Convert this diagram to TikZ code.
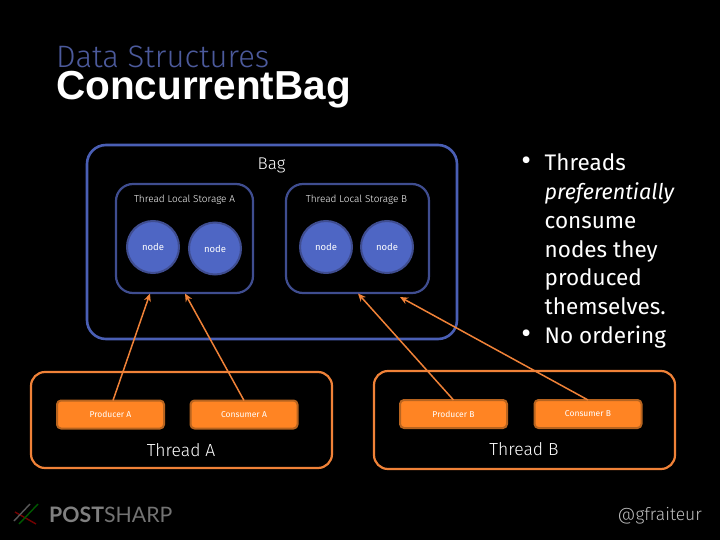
\documentclass[tikz,border=0pt]{standalone}
\usepackage{fontspec}
\setmainfont{Fira Sans}[UprightFont=* Light,ItalicFont=* Light Italic]
\newfontfamily\titlefont{Liberation Sans}
\newfontfamily\logofont{Lato}
\newfontfamily\bodyfont{Fira Sans}
\usetikzlibrary{arrows.meta}
\definecolor{bluel}{HTML}{4A5FB5}
\definecolor{bluef}{HTML}{4E66C4}
\definecolor{blued}{HTML}{3F4D90}
\definecolor{orl}{HTML}{F08238}
\definecolor{orf}{HTML}{FF8423}
\definecolor{ord}{HTML}{B8641F}
\definecolor{subt}{HTML}{4C5A9C}
\tikzset{
  bagbox/.style={draw=bluel,line width=2.6pt,rounded corners=19pt,inner sep=0pt},
  tlsbox/.style={draw=blued,line width=2.2pt,rounded corners=17pt,inner sep=0pt},
  threadbox/.style={draw=orl,line width=2.2pt,rounded corners=14pt,inner sep=0pt},
  datanode/.style={circle,draw=blued,line width=2pt,fill=bluef,minimum size=52pt,inner sep=0pt,text=white,font=\bodyfont\fontsize{9.5}{10}\selectfont},
  actor/.style={draw=ord,line width=2pt,fill=orf,rounded corners=4pt,minimum width=107pt,minimum height=28pt,inner sep=0pt,text=white,font=\bodyfont\fontsize{8.5}{9}\selectfont},
  flow/.style={draw=orl,line width=1.5pt,-{Stealth[length=8pt,width=7pt]}},
  lab/.style={text=white,inner sep=0pt},
}
\begin{document}
\begin{tikzpicture}[x=1pt,y=-1pt]
\useasboundingbox[fill=black] (0,0) rectangle (720,540);
\node[text=subt,inner sep=0pt,anchor=base west,font=\fontsize{31}{33}\selectfont] (sub) at (56,68) {Data Structures};
\node[text=white,inner sep=0pt,anchor=base west,font=\titlefont\bfseries\fontsize{40.5}{42}\selectfont] (ttl) at (56,100) {ConcurrentBag};
% boxes
\node[bagbox,minimum width=370pt,minimum height=194pt] (bag) at (272,242) {};
\node[lab,font=\fontsize{17}{19}\selectfont] (bagl) at (271.5,165.5) {Bag};
\node[tlsbox,minimum width=137pt,minimum height=109pt] (tlsa) at (184.5,238.5) {};
\node[tlsbox,minimum width=143pt,minimum height=109pt] (tlsb) at (357.5,238.5) {};
\node[lab,font=\fontsize{10}{11}\selectfont] (tlsal) at (184.5,200) {Thread Local Storage A};
\node[lab,font=\fontsize{10}{11}\selectfont] (tlsbl) at (356.5,200) {Thread Local Storage B};
\node[datanode] (na) at (153,247) {node};
\node[datanode] (nb) at (215,248.5) {node};
\node[datanode] (nc) at (326,247) {node};
\node[datanode] (nd) at (387,247) {node};
% threads
\node[threadbox,minimum width=301pt,minimum height=96pt] (tha) at (181.5,420) {};
\node[threadbox,minimum width=301pt,minimum height=98pt] (thb) at (524.5,420) {};
\node[actor] (pa) at (110.5,414.5) {Producer A};
\node[actor] (ca) at (244,414.5) {Consumer A};
\node[actor] (pb) at (453.5,414) {Producer B};
\node[actor] (cb) at (588,414) {Consumer B};
\node[lab,font=\fontsize{17.5}{19}\selectfont] (thal) at (181,450) {Thread A};
\node[lab,font=\fontsize{17.5}{19}\selectfont] (thbl) at (524,449) {Thread B};
% connectors
\coordinate (ea) at (150,293.5);
\coordinate (eb) at (185,293.5);
\coordinate (ec) at (358,293.5);
\coordinate (ed) at (400,297);
\draw[flow] ([xshift=2.5pt,yshift=-1pt]pa.north) -- (ea);
\draw[flow] ([yshift=-1pt]ca.north) -- (eb);
\draw[flow] ([yshift=-1pt]pb.north) -- (ec);
\draw[flow] ([yshift=-1pt]cb.north) -- (ed);
% bullet text
\node[lab,anchor=north west,align=left,font=\bodyfont\fontsize{22.5}{28.85}\selectfont] (txt) at (544.5,153.5) {%
\llap{\fontsize{30}{28.85}\selectfont•\hspace{13.5pt}}Threads\\ {\fontsize{21.6}{28.85}\selectfont\textit{preferentially}}\\ consume\\ nodes they\\ produced\\ themselves.\\ \llap{\fontsize{30}{28.85}\selectfont•\hspace{13.5pt}}No ordering};
% footer
\node[inner sep=0pt,anchor=base east,text=white!75!black,font=\fontsize{17.5}{20}\selectfont] (hdl) at (702,520) {@gfraiteur};
\node[inner sep=0pt,anchor=base west,font=\logofont\fontsize{21.3}{24}\selectfont] (logo) at (49,522) {\textcolor{white!50!black}{\bfseries POST}\textcolor{white!45!black}{SHARP}};
\coordinate (i1) at (15,512); \coordinate (i2) at (36,524);
\coordinate (i3) at (19,524); \coordinate (i4) at (38,504);
\coordinate (i5) at (14,521); \coordinate (i6) at (30,504);
\draw[line width=1.4pt,draw=red!45!black] (i1) -- (i2);
\draw[line width=1.4pt,draw=green!35!black] (i3) -- (i4);
\draw[line width=1.4pt,draw=white!35!black] (i5) -- (i6);
\end{tikzpicture}
\end{document}
